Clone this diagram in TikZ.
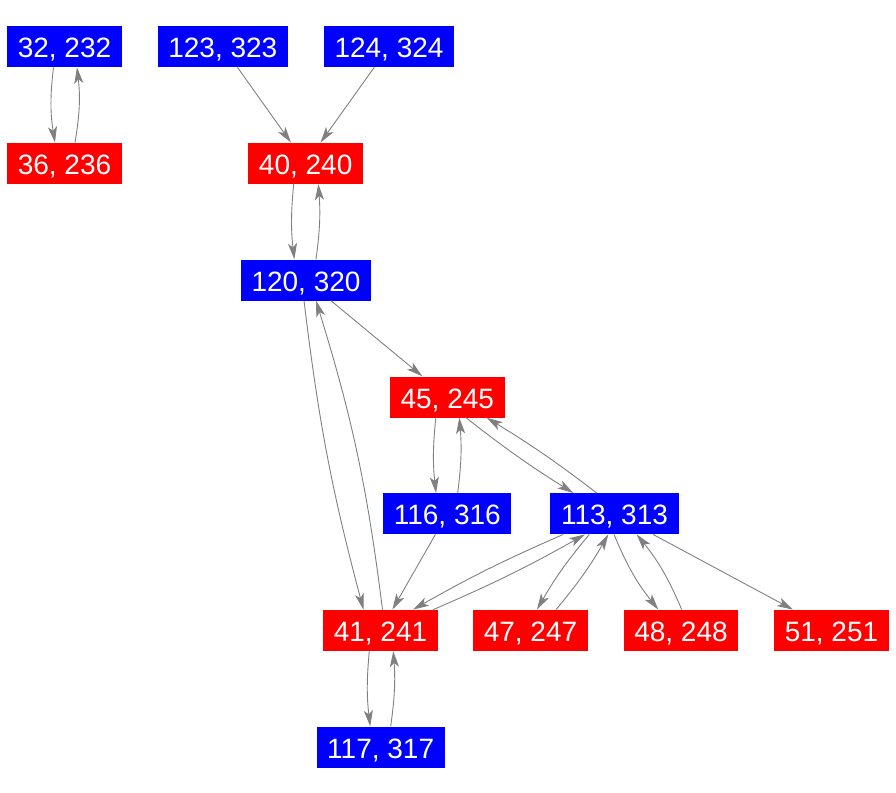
\documentclass[tikz,border=0pt]{standalone}
\usepackage{fontspec}
\setmainfont{Liberation Sans}
\usetikzlibrary{arrows.meta}
\definecolor{vblue}{RGB}{0,0,255}
\definecolor{vred}{RGB}{255,0,0}
\definecolor{edgegray}{RGB}{128,128,128}
\begin{document}
\begin{tikzpicture}[x=1pt,y=-1pt,
  vbox/.style={fill=vblue,text=white,font=\fontsize{28}{28}\selectfont,inner xsep=10.7pt,inner ysep=9.5pt,text height=22pt,text depth=0pt},
  rbox/.style={vbox,fill=vred},
  edge/.style={draw=edgegray,line width=0.9pt,-{Stealth[length=16pt,width=9pt,inset=4pt]}}]
\useasboundingbox (0,0) rectangle (896,792);
\node[vbox] (n32) at (64.5,46.7) {32, 232};
\node[vbox] (n123) at (222.8,46.7) {123, 323};
\node[vbox] (n124) at (389,46.7) {124, 324};
\node[rbox] (n36) at (64.5,163.3) {36, 236};
\node[rbox] (n40) at (305.7,163.3) {40, 240};
\node[vbox] (n120) at (306,280) {120, 320};
\node[rbox] (n45) at (447.3,397) {45, 245};
\node[vbox] (n116) at (447.3,513.7) {116, 316};
\node[vbox] (n113) at (614.5,513.7) {113, 313};
\node[rbox] (n41) at (380.5,630.3) {41, 241};
\node[rbox] (n47) at (530.5,630.3) {47, 247};
\node[rbox] (n48) at (681,630.3) {48, 248};
\node[rbox] (n51) at (831.5,630.3) {51, 251};
\node[vbox] (n117) at (380.7,747) {117, 317};

\draw[edge] ([xshift=-11pt]n32.south) to[bend right=8] ([xshift=-9.5pt]n36.north);
\draw[edge] ([xshift=10.5pt]n36.north) to[bend right=8] ([xshift=12.5pt]n32.south);
\draw[edge] (n123) -- (n40);
\draw[edge] (n124) -- (n40);
\draw[edge] ([xshift=-12pt]n40.south) to[bend right=6] ([xshift=-11.7pt]n120.north);
\draw[edge] ([xshift=10pt]n120.north) to[bend right=6] ([xshift=12.6pt]n40.south);
\draw[edge] (n120) -- (n45);
\draw[edge] ([xshift=-2pt]n120.south) to[bend right=4] ([xshift=-17pt]n41.north);
\draw[edge] ([xshift=2pt]n41.north) to[bend right=5] ([xshift=10pt]n120.south);
\draw[edge] ([xshift=-11.5pt]n45.south) to[bend right=6] ([xshift=-11.3pt]n116.north);
\draw[edge] ([xshift=10.4pt]n116.north) to[bend right=6] ([xshift=12pt]n45.south);
\draw[edge] ([xshift=18.7pt]n45.south) to[bend right=3] ([xshift=-41.2pt]n113.north);
\draw[edge] ([xshift=-17.8pt]n113.north) to[bend right=3] ([xshift=39.4pt]n45.south);
\draw[edge] (n116) -- (n41);
\draw[edge] ([xshift=-51.2pt]n113.south) to[bend right=3] ([xshift=32.5pt]n41.north);
\draw[edge] ([xshift=52.8pt]n41.north) to[bend right=3] ([xshift=-29.5pt]n113.south);
\draw[edge] ([xshift=-25.2pt]n113.south) to[bend right=5] ([xshift=6.5pt]n47.north);
\draw[edge] ([xshift=25.5pt]n47.north) to[bend right=5] ([xshift=-6.2pt]n113.south);
\draw[edge] ([xshift=-0.5pt]n113.south) to[bend right=8] ([xshift=-22.7pt]n48.north);
\draw[edge] ([xshift=0.7pt]n48.north) to[bend right=8] ([xshift=22.2pt]n113.south);
\draw[edge] (n113) -- (n51);
\draw[edge] ([xshift=-11.2pt]n41.south) to[bend right=6] ([xshift=-10.5pt]n117.north);
\draw[edge] ([xshift=10pt]n117.north) to[bend right=6] ([xshift=12.8pt]n41.south);
\end{tikzpicture}
\end{document}
